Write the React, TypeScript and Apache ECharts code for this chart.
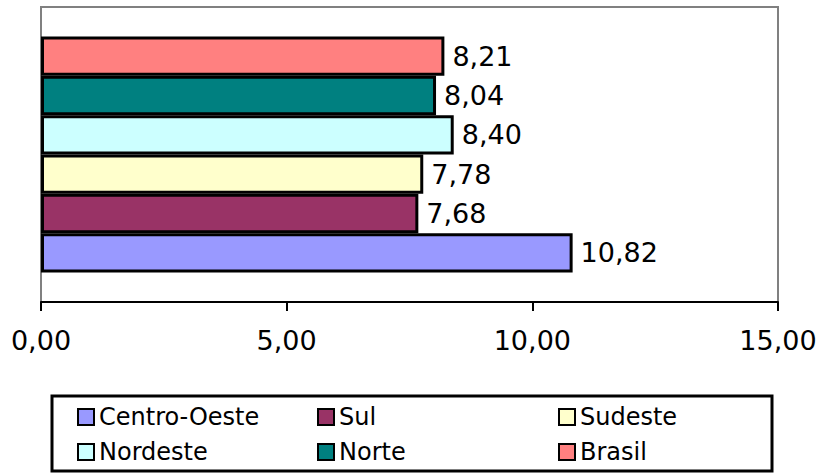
import React, { useEffect, useRef } from "react";
import * as echarts from "echarts";

const categories = ["Regiões"];
const seriesNames = ["Centro-Oeste", "Sul", "Sudeste", "Nordeste", "Norte", "Brasil"];
const seriesValues = [10.82, 7.68, 7.78, 8.4, 8.04, 8.21];
const seriesColors = ["#9999FF", "#993366", "#FFFFCC", "#CCFFFF", "#008080", "#FF8080"];
const xTicks = { min: 0, max: 15, interval: 5 };
const legendColumns = [
  ["Centro-Oeste", "Nordeste"],
  ["Sul", "Norte"],
  ["Sudeste", "Brasil"],
];

const fmt = (v: number) => v.toFixed(2).replace(".", ",");
const FONT = "'DejaVu Sans', Verdana, sans-serif";

export default function App() {
  const ref = useRef<HTMLDivElement>(null);
  useEffect(() => {
    if (!ref.current) return;
    const chart = echarts.init(ref.current, null, { renderer: "svg" });
    const legendLefts = [77, 317, 558];
    // ECharts draws the first bar series at the top for a category y axis,
    // so series are added in reverse to keep Centro-Oeste at the bottom.
    const order = seriesNames.map((_, i) => i).reverse();
    chart.setOption({
      animation: false,
      textStyle: { fontFamily: FONT },
      grid: {
        left: 41,
        right: 43,
        top: 7,
        bottom: 171,
        show: true,
        borderColor: "#808080",
        borderWidth: 2,
        backgroundColor: "#fff",
      },
      xAxis: {
        type: "value",
        min: xTicks.min,
        max: xTicks.max,
        interval: xTicks.interval,
        splitLine: { show: false },
        axisLine: { show: true, lineStyle: { color: "#000", width: 2 } },
        axisTick: { show: true, length: 9, lineStyle: { color: "#000", width: 2 } },
        axisLabel: {
          color: "#000",
          fontSize: 27,
          fontFamily: FONT,
          margin: 25,
          formatter: (v: number) => fmt(v),
        },
      },
      yAxis: {
        type: "category",
        data: categories,
        axisLine: { show: false },
        axisTick: { show: false },
        axisLabel: { show: false },
      },
      legend: legendColumns.map((col, i) => ({
        data: col,
        orient: "vertical",
        left: legendLefts[i],
        top: 405,
        padding: 0,
        itemGap: 11,
        itemWidth: 16,
        itemHeight: 16,
        icon: "rect",
        selectedMode: false,
        itemStyle: { borderColor: "#000", borderWidth: 2 },
        textStyle: { color: "#000", fontSize: 24, lineHeight: 24, fontFamily: FONT },
      })),
      graphic: [
        {
          type: "rect",
          shape: { x: 52, y: 396, width: 720, height: 75 },
          style: { fill: "none", stroke: "#000", lineWidth: 3 },
          z: -1,
        },
      ],
      series: order.map((i) => ({
        name: seriesNames[i],
        type: "bar",
        data: [seriesValues[i]],
        barGap: "0%",
        barCategoryGap: "20%",
        itemStyle: { color: seriesColors[i], borderColor: "#000", borderWidth: 3 },
        label: {
          show: true,
          position: "right",
          distance: 8,
          color: "#000",
          fontSize: 27,
          fontFamily: FONT,
          formatter: (p: any) => fmt(p.value),
        },
      })),
    });
    return () => chart.dispose();
  }, []);
  return (
    <div
      ref={ref}
      style={{ position: "fixed", left: 0, top: 0, width: 821, height: 473, background: "#fff" }}
    />
  );
}
